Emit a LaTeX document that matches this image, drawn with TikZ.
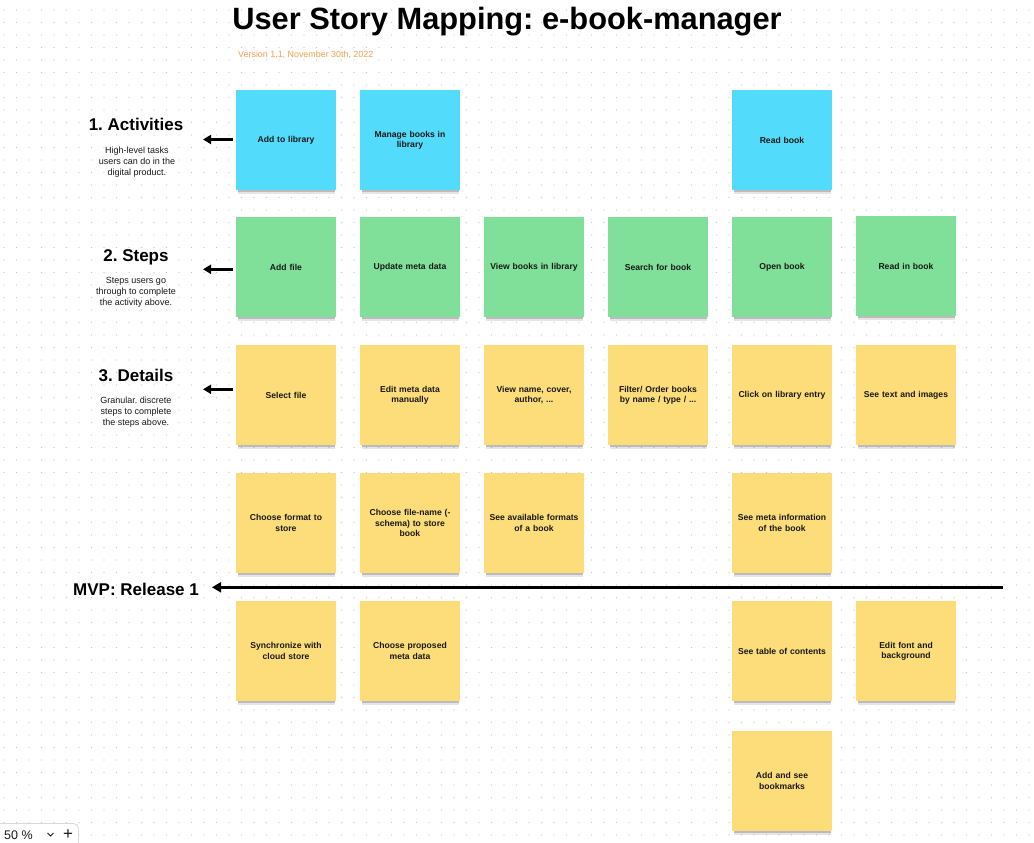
\documentclass[tikz,border=0pt]{standalone}
\usepackage{fontspec}
\setmainfont{Liberation Sans}
\usetikzlibrary{arrows.meta,shadows}
\frenchspacing
\definecolor{actc}{RGB}{83,219,252}
\definecolor{stepc}{RGB}{128,224,153}
\definecolor{detc}{RGB}{253,221,121}
\definecolor{dotc}{RGB}{196,196,196}
\definecolor{verc}{RGB}{244,160,80}
\definecolor{inkc}{RGB}{24,24,24}
\newcommand{\stickyfont}{\fontsize{8.6}{10.3}\selectfont\bfseries}
\newcommand{\headfont}{\fontsize{17}{20}\selectfont\bfseries}
\newcommand{\descfont}{\fontsize{9}{11}\selectfont}
\tikzset{
  sticky/.style={minimum width=100pt, minimum height=100pt, inner sep=0pt,
    text width=94pt, align=center, font=\stickyfont, text=inkc,
    drop shadow={shadow xshift=0pt, shadow yshift=-5.5pt, shadow scale=0.97, fill=black, opacity=0.10},
    drop shadow={shadow xshift=0pt, shadow yshift=-3.5pt, shadow scale=0.97, fill=black, opacity=0.18}},
  actnote/.style={sticky, fill=actc},
  stepnote/.style={sticky, fill=stepc},
  detnote/.style={sticky, fill=detc},
  heading/.style={font=\headfont, inner sep=0pt, anchor=base},
  desc/.style={font=\descfont, align=center, inner sep=0pt, text=inkc},
  sidearrow/.style={line width=2.5pt, -{Triangle[length=8pt,width=9pt]}, shorten <=3pt},
  mvparrow/.style={line width=3pt, -{Triangle[length=9pt,width=10pt]}}
}
\begin{document}
\begin{tikzpicture}[x=1pt,y=-1pt]
\useasboundingbox (0,0) rectangle (1034,843);
\fill[white] (0,0) rectangle (1034,843);
% dot grid
\foreach \i in {0,...,82} {
  \fill[dotc] \foreach \j in {0,...,66} {(4+12.5*\i, 10+12.5*\j) circle (0.7)};
}
% title
\node[font=\fontsize{30.8}{36}\selectfont\bfseries, inner sep=0pt, anchor=base] (title) at (507,30) {User Story Mapping: e-book-manager};
\node[font=\fontsize{8.9}{11}\selectfont, text=verc, inner sep=0pt, anchor=base west] (version) at (238,58) {Version 1.1, November 30th, 2022};

% row 1: activities
\node[actnote] (a1) at (286,140) {Add to library};
\node[actnote] (a2) at (410,140) {Manage books in\\library};
\node[actnote] (a3) at (782,140) {Read book};
% row 2: steps
\node[stepnote] (s1) at (286,267) {Add file};
\node[stepnote] (s2) at (410,267) {Update meta data};
\node[stepnote] (s3) at (534,267) {View books in library};
\node[stepnote] (s4) at (658,267) {Search for book};
\node[stepnote] (s5) at (782,267) {Open book};
\node[stepnote] (s6) at (906,266) {Read in book};
% row 3: details
\node[detnote] (d1) at (286,395) {Select file};
\node[detnote] (d2) at (410,395) {Edit meta data\\manually};
\node[detnote] (d3) at (534,395) {View name, cover,\\author, ...};
\node[detnote] (d4) at (658,395) {Filter/ Order books\\by name / type / ...};
\node[detnote] (d5) at (782,395) {Click on library entry};
\node[detnote] (d6) at (906,395) {See text and images};
% row 4
\node[detnote] (e1) at (286,523) {Choose format to\\store};
\node[detnote] (e2) at (410,523) {Choose file-name (-\\schema) to store\\book};
\node[detnote] (e3) at (534,523) {See available formats\\of a book};
\node[detnote] (e5) at (782,523) {See meta information\\of the book};
% row 5
\node[detnote] (f1) at (286,651) {Synchronize with\\cloud store};
\node[detnote] (f2) at (410,651) {Choose proposed\\meta data};
\node[detnote] (f5) at (782,651) {See table of contents};
\node[detnote] (f6) at (906,651) {Edit font and\\background};
% row 6
\node[detnote] (g5) at (782,781) {Add and see\\bookmarks};

% left labels
\node[heading] (h1) at (136,130) {1. Activities};
\node[desc] (t1) at (137,162) {High-level tasks\\users can do in the\\digital product.};
\node[heading] (h2) at (136,261) {2. Steps};
\node[desc] (t2) at (136,292) {Steps users go\\through to complete\\the activity above.};
\node[heading] (h3) at (136,381) {3. Details};
\node[desc] (t3) at (136,412) {Granular. discrete\\steps to complete\\the steps above.};

\coordinate (p1) at (203,139.5);
\coordinate (p2) at (203,269.3);
\coordinate (p3) at (203,389.3);
\draw[sidearrow] (a1.west |- p1) -- (p1);
\draw[sidearrow] (s1.west |- p2) -- (p2);
\draw[sidearrow] (d1.west |- p3) -- (p3);

% MVP line
\node[heading, anchor=base west] (mvp) at (73,595) {MVP: Release 1};
\coordinate (mvpR) at (1003,587.3);
\coordinate (mvpL) at (212,587.3);
\draw[mvparrow] (mvpR) -- (mvpL);

% zoom control
\begin{scope}
\clip (0,0) rectangle (1034,843);
\draw[gray!30, fill=white, rounded corners=5pt, line width=0.8pt] (-8,823.5) rectangle (78.5,860);
\node[font=\fontsize{12.5}{14}\selectfont, inner sep=0pt, anchor=base west, text=inkc] (zoomtxt) at (4,839.5) {50 \%};
\draw[inkc, line width=0.9pt] (47.5,833) -- (50.5,836) -- (53.5,833);
\node[font=\fontsize{17}{18}\selectfont, inner sep=0pt, text=inkc] (plus) at (68,834.5) {+};
\end{scope}
\end{tikzpicture}
\end{document}
